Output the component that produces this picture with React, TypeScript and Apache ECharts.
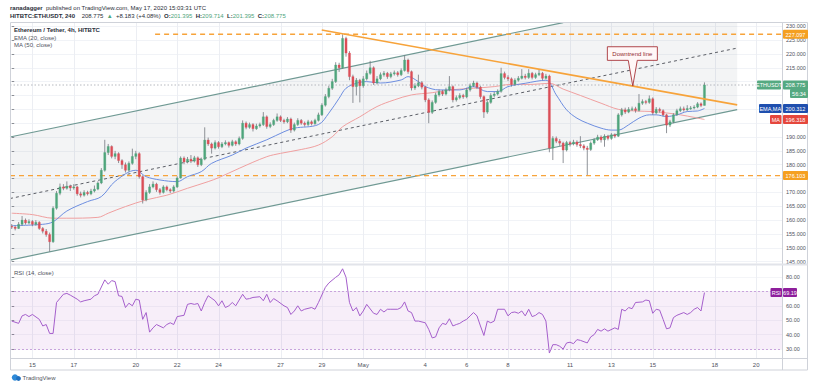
import React, { useEffect, useRef } from 'react';
import * as echarts from 'echarts';

// ---- data (4h candles, Apr 14 00:00 -> May 17 12:00) ----
const firstOpen = 157.8;
const closes = [
  157.5, 157.0, 158.5, 160.0, 159.0, 159.5, 158.5, 159.2, 157.0, 156.0,
  154.8, 152.2, 164.3, 169.7, 172.0, 171.5, 172.3, 171.6, 172.0, 169.5,
  169.0, 170.0, 169.5, 170.5, 171.2, 173.4, 178.0, 184.4, 186.6, 183.0,
  184.0, 181.5, 180.0, 178.0, 180.5, 183.0, 184.0, 175.7, 167.3, 170.0,
  172.0, 173.0, 171.0, 170.0, 172.0, 171.0, 170.5, 172.0, 175.2, 182.4,
  181.0, 182.0, 181.3, 182.5, 180.0, 182.0, 188.9, 187.5, 186.0, 188.0,
  186.5, 187.5, 188.0, 187.0, 188.3, 187.5, 189.5, 195.0, 193.5, 194.5,
  193.0, 194.0, 194.5, 197.3, 193.8, 194.5, 196.0, 197.3, 196.0, 195.5,
  196.5, 192.5, 194.5, 196.0, 195.0, 194.5, 195.5, 194.8, 196.0, 198.0,
  201.5, 204.6, 207.6, 210.0, 216.0, 215.0, 225.6, 220.3, 211.8, 208.2,
  210.5, 208.5, 211.0, 213.0, 215.0, 209.5, 211.0, 212.5, 213.0, 211.8,
  212.8, 213.2, 212.5, 214.0, 217.8, 213.6, 207.7, 208.5, 209.6, 208.0,
  203.4, 198.9, 202.5, 205.2, 206.4, 205.5, 207.0, 208.2, 203.4, 204.2,
  205.0, 204.5, 207.0, 208.5, 209.5, 208.0, 204.6, 199.0, 202.5, 205.0,
  205.5, 206.5, 212.9, 211.5, 211.0, 209.0, 210.5, 211.2, 212.0, 211.5,
  213.0, 211.5, 212.5, 213.0, 211.2, 212.0, 186.0, 189.5, 188.5, 187.8,
  185.3, 188.0, 187.5, 188.2, 187.3, 186.8, 186.0, 185.5, 187.8, 189.0,
  190.0, 189.0, 190.3, 189.5, 190.8, 190.3, 198.0, 199.8, 199.0, 200.0,
  200.2, 199.6, 202.2, 202.8, 202.5, 203.8, 198.7, 200.0, 199.5, 198.0,
  194.3, 195.5, 198.0, 199.5, 200.2, 199.8, 200.3, 200.5, 200.8, 202.0,
  201.395, 208.775,
];
const highs = [
  158.6, 158.0, 159.3, 161.5, 160.6, 160.3, 160.0, 160.0, 159.6, 157.5,
  156.8, 155.5, 165.0, 170.5, 173.2, 173.0, 174.0, 172.8, 173.0, 172.4,
  170.3, 170.8, 170.6, 171.3, 172.5, 174.0, 178.8, 189.0, 187.5, 187.0,
  185.0, 184.5, 182.0, 180.8, 181.2, 185.8, 185.0, 184.5, 176.2, 170.8,
  173.0, 174.0, 173.5, 171.6, 172.6, 172.5, 171.5, 172.6, 175.8, 183.0,
  183.0, 182.8, 183.5, 183.2, 183.0, 182.6, 193.5, 189.8, 188.0, 188.8,
  188.5, 188.2, 188.8, 188.4, 189.0, 188.8, 190.2, 196.0, 195.6, 195.2,
  195.0, 194.8, 195.2, 199.0, 197.8, 195.3, 196.6, 198.5, 197.8, 196.6,
  197.2, 197.0, 195.2, 196.8, 196.5, 195.6, 196.2, 196.0, 196.6, 198.8,
  202.2, 205.5, 208.5, 211.0, 217.0, 216.8, 227.1, 226.2, 221.0, 212.5,
  211.3, 211.0, 212.0, 214.0, 217.5, 215.5, 212.0, 213.3, 213.8, 213.5,
  213.5, 214.0, 213.8, 214.8, 219.5, 218.3, 214.0, 209.4, 212.5, 210.2,
  208.5, 204.0, 203.2, 206.0, 207.2, 207.0, 207.8, 212.0, 208.6, 205.0,
  205.8, 205.6, 207.8, 209.3, 210.3, 210.0, 208.5, 205.0, 203.2, 205.8,
  206.3, 207.2, 215.0, 213.6, 212.3, 211.5, 211.2, 212.0, 214.5, 212.8,
  214.5, 213.5, 213.2, 214.2, 213.5, 212.8, 212.5, 190.3, 190.2, 189.3,
  188.3, 188.6, 188.6, 189.0, 188.8, 190.3, 187.4, 186.8, 188.4, 189.6,
  190.8, 190.6, 191.0, 190.8, 191.4, 191.3, 198.6, 200.5, 200.6, 200.8,
  201.0, 200.9, 205.5, 203.6, 203.4, 205.0, 204.3, 200.8, 200.6, 200.0,
  198.4, 196.2, 198.6, 200.2, 201.0, 201.0, 201.5, 201.2, 201.5, 202.6,
  202.5, 209.714,
];
const lows = [
  156.8, 156.3, 156.8, 158.0, 158.4, 158.5, 157.8, 158.0, 156.5, 155.2,
  154.0, 148.6, 151.8, 163.8, 169.0, 170.8, 171.0, 170.5, 171.0, 168.8,
  168.2, 168.5, 168.9, 169.0, 170.0, 170.8, 173.0, 177.5, 183.5, 182.3,
  182.0, 180.6, 178.5, 177.2, 177.5, 180.0, 182.0, 175.0, 166.0, 166.8,
  169.5, 171.5, 170.2, 169.2, 169.6, 170.4, 169.8, 170.0, 171.6, 175.0,
  180.2, 180.5, 180.6, 180.8, 179.2, 179.5, 181.6, 186.8, 184.0, 185.5,
  185.8, 186.0, 187.0, 186.2, 186.6, 186.8, 187.0, 189.0, 192.8, 193.0,
  192.0, 192.6, 193.4, 194.0, 193.0, 193.2, 194.0, 195.5, 195.4, 194.8,
  195.0, 191.5, 192.0, 194.0, 194.4, 193.8, 194.0, 194.2, 194.4, 195.6,
  197.6, 201.0, 204.0, 207.0, 209.5, 213.5, 214.6, 219.0, 210.5, 202.3,
  205.0, 202.5, 207.8, 210.4, 212.5, 208.8, 209.0, 210.5, 211.8, 211.0,
  211.2, 212.2, 211.8, 212.0, 213.6, 212.8, 206.8, 207.0, 208.0, 207.2,
  202.6, 195.0, 198.3, 202.0, 204.6, 204.8, 205.0, 206.5, 202.5, 202.8,
  203.6, 203.8, 204.0, 206.4, 208.0, 207.3, 203.8, 196.9, 198.4, 202.0,
  204.4, 205.0, 206.0, 210.8, 210.2, 208.2, 208.5, 210.0, 210.8, 210.8,
  211.0, 210.8, 211.0, 212.0, 210.5, 210.8, 184.5, 181.7, 187.8, 186.8,
  180.6, 184.8, 186.6, 187.0, 186.5, 186.0, 185.2, 176.3, 185.0, 187.2,
  188.6, 188.0, 186.5, 188.8, 189.0, 189.6, 190.0, 197.4, 198.3, 198.6,
  199.4, 198.8, 199.2, 201.6, 201.8, 202.0, 198.0, 198.2, 198.8, 197.4,
  191.4, 193.6, 195.0, 197.6, 199.0, 199.2, 199.4, 199.8, 200.0, 200.4,
  200.8, 201.395,
];

// EMA(20) and MA(50) read at candle indices
const emaPoints = [
  [0, 158.0], [9, 158.5], [12, 159.4], [16, 163.3], [22, 166.7], [26, 168.5], [30, 174.0],
  [36, 178.0], [39, 175.7], [43, 174.5], [48, 173.9], [51, 175.7], [55, 177.5], [58, 180.5],
  [64, 183.5], [68, 186.0], [74, 189.0], [79, 191.9], [82, 193.2], [89, 194.5], [92, 198.6],
  [95, 204.0], [97, 207.6], [100, 209.4], [103, 210.0], [107, 209.5], [113, 210.6], [115, 211.8],
  [118, 210.0], [120, 208.2], [124, 207.0], [130, 207.0], [134, 208.2], [138, 206.4], [141, 206.4],
  [144, 208.2], [149, 209.4], [155, 210.5], [158, 205.2], [161, 199.8], [164, 196.8], [167, 195.0],
  [171, 193.2], [174, 192.5], [176, 192.5], [179, 194.4], [182, 196.8], [185, 198.0], [187, 198.0],
  [190, 197.4], [193, 198.0], [196, 199.2], [199, 199.4], [201, 200.312],
];
const maPoints = [
  [0, 162.5], [6, 162.0], [12, 160.7], [16, 160.7], [25, 161.0], [28, 162.5], [33, 164.9],
  [39, 167.3], [45, 169.0], [51, 171.5], [57, 173.9], [60, 175.3], [66, 178.7], [74, 182.9],
  [78, 184.1], [84, 185.5], [89, 187.1], [93, 190.1], [96, 193.7], [101, 197.3], [106, 201.0],
  [111, 203.4], [116, 205.2], [122, 206.0], [127, 207.0], [134, 207.6], [140, 208.2], [145, 209.0],
  [151, 209.0], [156, 209.4], [160, 207.3], [165, 205.0], [171, 202.2], [176, 200.0], [181, 199.4],
  [186, 199.2], [190, 198.7], [194, 198.0], [198, 197.1], [201, 196.318],
];
// RSI(14) read at candle indices
const rsiPoints = [
  [0, 49.4], [2, 47.8], [3, 53], [4, 54], [5, 52.5], [6, 54], [8, 50.6], [9, 46], [10, 47], [11, 40.8],
  [12, 40.8], [13, 62.3], [15, 68], [16, 68.6], [17, 67.4], [19, 64.6], [20, 62.7], [21, 63.5], [23, 64.6],
  [24, 67], [25, 68], [27, 78], [28, 75], [29, 77.5], [30, 76.8], [31, 67], [32, 66.5], [33, 58.8],
  [34, 61.8], [35, 60], [36, 64.6], [37, 64], [38, 50.6], [39, 55.3], [40, 41.7], [41, 44.7], [42, 47],
  [44, 44.7], [45, 47], [46, 48.2], [47, 47], [48, 52.5], [50, 53.4], [51, 61], [52, 61.6], [53, 61],
  [54, 61.6], [55, 56.4], [56, 62.3], [57, 67], [59, 63.5], [60, 60], [61, 63.5], [62, 58.8], [63, 60],
  [64, 62.3], [65, 60], [67, 68], [68, 64.6], [69, 65], [70, 65.8], [72, 66.3], [73, 63.5], [74, 68],
  [75, 62.3], [76, 65], [77, 63.5], [79, 60], [80, 58.8], [81, 54], [82, 56.4], [83, 60], [84, 56.4],
  [85, 57.6], [87, 58.8], [88, 57.6], [89, 62.3], [91, 72.8], [92, 75.8], [94, 79.8], [95, 81.5],
  [96, 85.7], [97, 79.8], [98, 62.3], [99, 56.4], [100, 58.8], [101, 53], [102, 56.4], [103, 61],
  [105, 54.8], [106, 54], [107, 57.6], [108, 55.7], [109, 57.6], [110, 57.6], [112, 57.6], [113, 58.8],
  [114, 62.7], [115, 56.4], [116, 55.3], [117, 49.4], [118, 49.4], [120, 48.2], [121, 43.6], [122, 37.7],
  [123, 38.4], [124, 44.7], [125, 47.8], [126, 47], [127, 51], [128, 46], [129, 47], [130, 47.8],
  [131, 49.4], [132, 50.6], [133, 53], [134, 55.3], [135, 53], [136, 46], [137, 39.4], [138, 49.4],
  [139, 48.2], [140, 49.4], [141, 57.6], [143, 57.6], [144, 53], [145, 55.3], [146, 55.7], [147, 54.8],
  [148, 56.4], [149, 53], [150, 57.6], [151, 52.5], [152, 53.4], [153, 55.3], [154, 54], [155, 49.4],
  [156, 27.2], [157, 33], [158, 33], [159, 31.9], [160, 30], [161, 34.2], [162, 34.7], [163, 33.7],
  [164, 36.5], [165, 36], [167, 34.2], [168, 38.4], [169, 40], [170, 43.6], [171, 42.4], [172, 44],
  [173, 42.4], [175, 44.7], [176, 43.6], [177, 57.6], [178, 56.4], [179, 58.8], [180, 58], [181, 62.3],
  [183, 62.7], [184, 64], [185, 63.5], [186, 54.8], [187, 57.6], [188, 57], [189, 50.6], [190, 44],
  [191, 44.7], [192, 51.8], [193, 53.4], [195, 55.3], [196, 54], [197, 55.3], [198, 57.6], [199, 58.8],
  [200, 56.4], [201, 69.19],
];

// drawings (candle index, price)
const upperChannel = [[-0.5, 190.0], [160.0, 231.3]];
const lowerChannel = [[-0.5, 145.6], [210.5, 199.9]];
const midChannel = [[-0.5, 167.8], [210.5, 222.1]];
const channelArea = [[-0.5, 145.6], [210.5, 199.9], [210.5, 231.3], [160.0, 231.3], [-0.5, 190.0]];
const downtrend = [[89.95, 228.6], [210.5, 201.6]];
const resistance = 227.097;
const resistanceStart = 41.6;
const support = 176.103;
const lastPrice = 208.775;
const countdown = '56:34';
const emaLast = 200.312;
const maLast = 196.318;
const rsiLast = 69.19;
const calloutTip = [180.2, 208.4];
// price-axis tick labels hidden behind the value boxes
const coveredPriceTicks = [175, 195, 200, 205, 210];

// time axis (candle index -> label)
const dateTicks = [
  [6, '15'], [18, '17'], [36, '20'], [48, '22'], [60, '24'], [78, '27'], [90, '29'], [102, 'May'],
  [120, '4'], [132, '6'], [144, '8'], [162, '11'], [174, '13'], [186, '15'], [204, '18'], [216, '20'],
];
const SLOTS = 224;

const FF = 'Liberation Sans, Arial, sans-serif';
const UP = '#4fa57c';
const DOWN = '#dc4e57';
const WICK = '#74777f';
const ORANGE = '#f7a33a';

export default function App() {
  const ref = useRef<HTMLDivElement>(null);
  useEffect(() => {
    const chart = echarts.init(ref.current!, undefined, { renderer: 'svg' });
    const cats = Array.from({ length: SLOTS }, (_, i) => String(i));
    const labelMap: Record<number, string> = {};
    dateTicks.forEach(([i, l]) => { labelMap[i as number] = l as string; });
    const candles = closes.map((c, i) => [i, i === 0 ? firstOpen : closes[i - 1], c, lows[i], highs[i]]);

    const lineSeries = (data: number[][], color: string, width: number, type: any, z = 3, extra: any = {}) => ({
      type: 'line', xAxisIndex: 1, yAxisIndex: 0, data, symbol: 'none', clip: false, silent: true, z,
      lineStyle: { color, width, type }, ...extra,
    });

    chart.setOption({
      animation: false,
      backgroundColor: '#fff',
      grid: [
        { left: 10, top: 26.2, width: 772, height: 235.5 },
        { left: 10, top: 277, width: 772, height: 72 },
      ],
      xAxis: [
        { type: 'category', gridIndex: 0, data: cats, show: false },
        { type: 'value', gridIndex: 0, min: -0.5, max: SLOTS - 0.5, show: false },
        {
          type: 'category', gridIndex: 1, data: cats,
          axisLine: { show: false }, axisTick: { show: false },
          axisLabel: {
            interval: (idx: number) => labelMap[idx] !== undefined,
            formatter: (v: string) => labelMap[Number(v)] ?? '',
            fontSize: 6, color: '#50535e', margin: 12.5, fontFamily: FF,
          },
        },
        { type: 'value', gridIndex: 1, min: -0.5, max: SLOTS - 0.5, show: false },
      ],
      yAxis: [
        {
          type: 'value', gridIndex: 0, position: 'right', min: 145, max: 230, interval: 5,
          axisLine: { show: false },
          axisTick: { show: true, length: 2.5, lineStyle: { color: '#8a8d94' } },
          axisLabel: {
            fontSize: 5.5, color: '#50535e', margin: 4, fontFamily: FF,
            formatter: (v: number) => (coveredPriceTicks.includes(v) ? '' : v.toFixed(3)),
          },
          splitLine: { lineStyle: { color: '#f1f3f7', width: 1 } },
        },
        {
          type: 'value', gridIndex: 1, position: 'right', min: 30, max: 80, interval: 10,
          axisLine: { show: false },
          axisTick: { show: true, length: 2.5, lineStyle: { color: '#8a8d94' } },
          axisLabel: { fontSize: 5.5, color: '#50535e', margin: 4, fontFamily: FF, formatter: (v: number) => (v === 70 ? '' : v.toFixed(2)) },
          splitLine: { lineStyle: { color: '#f4f5f8', width: 1 } },
        },
      ],
      series: [
        {
          type: 'custom', xAxisIndex: 1, yAxisIndex: 0, data: [[0, 200]], clip: false, silent: true, z: 1,
          renderItem: (_p: any, api: any) => ({
            type: 'polygon',
            shape: { points: channelArea.map((pt) => api.coord(pt)) },
            style: { fill: 'rgba(120,128,145,0.09)' },
          }),
        },
        lineSeries(upperChannel, '#6f9993', 1.2, 'solid'),
        lineSeries(lowerChannel, '#6f9993', 1.2, 'solid'),
        lineSeries(midChannel, '#5b5e66', 1, [3, 3]),
        lineSeries([[resistanceStart, resistance], [SLOTS - 0.5, resistance]], ORANGE, 1.3, [5, 4]),
        lineSeries([[-0.5, support], [SLOTS - 0.5, support]], ORANGE, 1.3, [5, 4]),
        lineSeries([[-0.5, lastPrice], [SLOTS - 0.5, lastPrice]], '#a3a7ae', 0.8, [1.5, 2]),
        lineSeries(maPoints, '#f0a0a0', 1, 'solid', 4, { smooth: 0.35 }),
        lineSeries(emaPoints, '#6d8ee0', 1, 'solid', 4, { smooth: 0.35 }),
        {
          type: 'custom', xAxisIndex: 0, yAxisIndex: 0, data: candles, z: 5, silent: true,
          encode: { x: 0, y: [1, 2, 3, 4] },
          renderItem: (_p: any, api: any) => {
            const i = api.value(0), o = api.value(1), c = api.value(2), l = api.value(3), h = api.value(4);
            const po = api.coord([i, o]);
            const pc = api.coord([i, c]);
            const pl = api.coord([i, l]);
            const ph = api.coord([i, h]);
            const bw = api.size([1, 0])[0] * 0.62;
            const col = c >= o ? UP : DOWN;
            const top = Math.min(po[1], pc[1]);
            const hh = Math.max(Math.abs(po[1] - pc[1]), 0.9);
            return {
              type: 'group',
              children: [
                { type: 'line', shape: { x1: po[0], y1: ph[1], x2: po[0], y2: pl[1] }, style: { stroke: WICK, lineWidth: 0.8 } },
                { type: 'rect', shape: { x: po[0] - bw / 2, y: top, width: bw, height: hh }, style: { fill: col, stroke: col, lineWidth: 0.3 } },
              ],
            };
          },
        },
        lineSeries(downtrend, ORANGE, 1.6, 'solid', 6),
        {
          type: 'line', xAxisIndex: 3, yAxisIndex: 1, data: rsiPoints, symbol: 'none', clip: false, silent: true, z: 4,
          lineStyle: { color: '#a55fcc', width: 1 },
          markArea: {
            silent: true,
            itemStyle: { color: 'rgba(156,39,176,0.08)' },
            data: [[{ yAxis: 30 }, { yAxis: 70 }]],
          },
          markLine: {
            silent: true, symbol: 'none', label: { show: false },
            lineStyle: { color: '#c9a3dc', type: [2, 2], width: 1 },
            data: [{ yAxis: 30 }, { yAxis: 70 }],
          },
        },
      ],
    });

    const px = (v: number, p: number) => chart.convertToPixel({ xAxisIndex: 1, yAxisIndex: 0 } as any, [v, p]) as number[];
    const pxR = (v: number, p: number) => chart.convertToPixel({ xAxisIndex: 3, yAxisIndex: 1 } as any, [v, p]) as number[];

    const G: any[] = [];
    const FRAME = '#cfd2d9';
    const GRIDV = '#eceef3';
    dateTicks.forEach(([i]) => {
      const x = Math.round(px(i as number, 200)[0]) + 0.5;
      G.push({ type: 'line', z: 0, silent: true, shape: { x1: x, y1: 23, x2: x, y2: 263.5 }, style: { stroke: GRIDV, lineWidth: 1 } });
      G.push({ type: 'line', z: 0, silent: true, shape: { x1: x, y1: 265.5, x2: x, y2: 358 }, style: { stroke: GRIDV, lineWidth: 1 } });
    });
    // frame
    G.push({ type: 'rect', z: 50, silent: true, shape: { x: 10.5, y: 22.5, width: 797, height: 347.5 }, style: { fill: 'none', stroke: FRAME, lineWidth: 1 } });
    G.push({ type: 'line', z: 50, silent: true, shape: { x1: 782.5, y1: 22.5, x2: 782.5, y2: 370 }, style: { stroke: FRAME, lineWidth: 1 } });
    G.push({ type: 'rect', z: 50, silent: true, shape: { x: 10.5, y: 263.5, width: 797, height: 2 }, style: { fill: '#e2e4ea' } });
    G.push({ type: 'line', z: 50, silent: true, shape: { x1: 10.5, y1: 358.5, x2: 807.5, y2: 358.5 }, style: { stroke: FRAME, lineWidth: 1 } });

    const txt = (x: number, y: number, text: string, font: string, fill: string, align = 'left', extra: any = {}) => ({
      type: 'text', z: 120, silent: true,
      style: { x, y, text, font, fill, align, verticalAlign: 'middle', textAlign: align, textVerticalAlign: 'middle', ...extra },
    });
    const box = (x: number, yc: number, w: number, text: string, bg: string) => {
      G.push({ type: 'rect', z: 110, silent: true, shape: { x, y: yc - 4.5, width: w, height: 9, r: 1 }, style: { fill: bg } });
      G.push(txt(x + w / 2, yc + 0.3, text, `5.5px ${FF}`, '#ffffff', 'center'));
    };
    const yRes = px(0, resistance)[1];
    const ySup = px(0, support)[1];
    const yLast = px(0, lastPrice)[1];
    const yEma = px(0, emaLast)[1];
    const yMa = px(0, maLast)[1];
    const yRsi = pxR(0, rsiLast)[1];
    box(783, yRes, 25, resistance.toFixed(3), '#f5a021');
    box(783, ySup, 25, support.toFixed(3), '#f5a021');
    box(757, yLast, 24, 'ETHUSDT', '#55a981');
    box(783, yLast, 25, lastPrice.toFixed(3), '#55a981');
    box(790, yLast + 8.5, 18, countdown, '#55a981');
    box(759, yEma, 22.5, 'EMA,MA', '#1f4fae');
    box(783, yEma, 25, emaLast.toFixed(3), '#1f4fae');
    box(770, yMa, 11.5, 'MA', '#e5473d');
    box(783, yMa, 25, maLast.toFixed(3), '#e5473d');
    box(770.5, yRsi, 11.5, 'RSI', '#8e1f9c');
    box(783, yRsi, 14, rsiLast.toFixed(2), '#8e1f9c');

    // callout
    const [tx, ty] = px(calloutTip[0], calloutTip[1]);
    const bx0 = tx - 25.4, bx1 = tx + 24.6, by0 = ty - 39.3, by1 = ty - 25.7;
    G.push({
      type: 'polygon', z: 100, silent: true,
      shape: { points: [[bx0, by0], [bx1, by0], [bx1, by1], [tx + 4.5, by1], [tx, ty], [tx - 4.5, by1], [bx0, by1]] },
      style: { fill: '#fff7f7', stroke: '#a8343a', lineWidth: 0.9, lineJoin: 'round' },
    });
    G.push(txt((bx0 + bx1) / 2, (by0 + by1) / 2, 'Downtrend line', `6px ${FF}`, '#8f2a2f', 'center'));

    // header
    G.push({
      type: 'text', z: 120, silent: true,
      style: {
        x: 10, y: 8.3, verticalAlign: 'middle', textVerticalAlign: 'middle',
        text: '{b|ranadagger} {n|published on TradingView.com, May 17, 2020 15:03:31 UTC}',
        rich: { b: { font: `bold 6px ${FF}`, fill: '#2a2e39' }, n: { font: `6px ${FF}`, fill: '#2a2e39' } },
      },
    });
    G.push({
      type: 'text', z: 120, silent: true,
      style: {
        x: 10, y: 15.8, verticalAlign: 'middle', textVerticalAlign: 'middle',
        text: '{b|HITBTC:ETHUSDT, 240}  {n|208.775} {g|▲} {n|+8.183 (+4.08%)} {b|O:}{v|201.395} {b|H:}{v|209.714} {b|L:}{v|201.395} {b|C:}{v|208.775}',
        rich: {
          b: { font: `bold 6px ${FF}`, fill: '#2a2e39' },
          n: { font: `6px ${FF}`, fill: '#2a2e39' },
          g: { font: `6px ${FF}`, fill: '#4fa57c' },
          v: { font: `6px ${FF}`, fill: '#4fa57c' },
        },
      },
    });
    // legends
    G.push(txt(14, 30, 'Ethereum / Tether, 4h, HITBTC', `bold 6px ${FF}`, '#2a2e39'));
    G.push(txt(14, 37.7, 'EMA (20, close)', `6px ${FF}`, '#50535e'));
    G.push(txt(14, 45, 'MA (50, close)', `6px ${FF}`, '#50535e'));
    G.push(txt(14, 273, 'RSI (14, close)', `6px ${FF}`, '#50535e'));
    // TradingView mark
    G.push({ type: 'circle', z: 120, silent: true, shape: { cx: 15, cy: 377.5, r: 3.2 }, style: { fill: '#2e8ad8' } });
    G.push({ type: 'circle', z: 120, silent: true, shape: { cx: 18.5, cy: 378.5, r: 2.4 }, style: { fill: '#1f6fbf' } });
    G.push(txt(22.5, 378, 'TradingView', `6px ${FF}`, '#50535e'));

    chart.setOption({ graphic: { elements: G } });
    return () => chart.dispose();
  }, []);
  return <div ref={ref} style={{ position: 'fixed', left: 0, top: 0, width: 818, height: 383 }} />;
}
